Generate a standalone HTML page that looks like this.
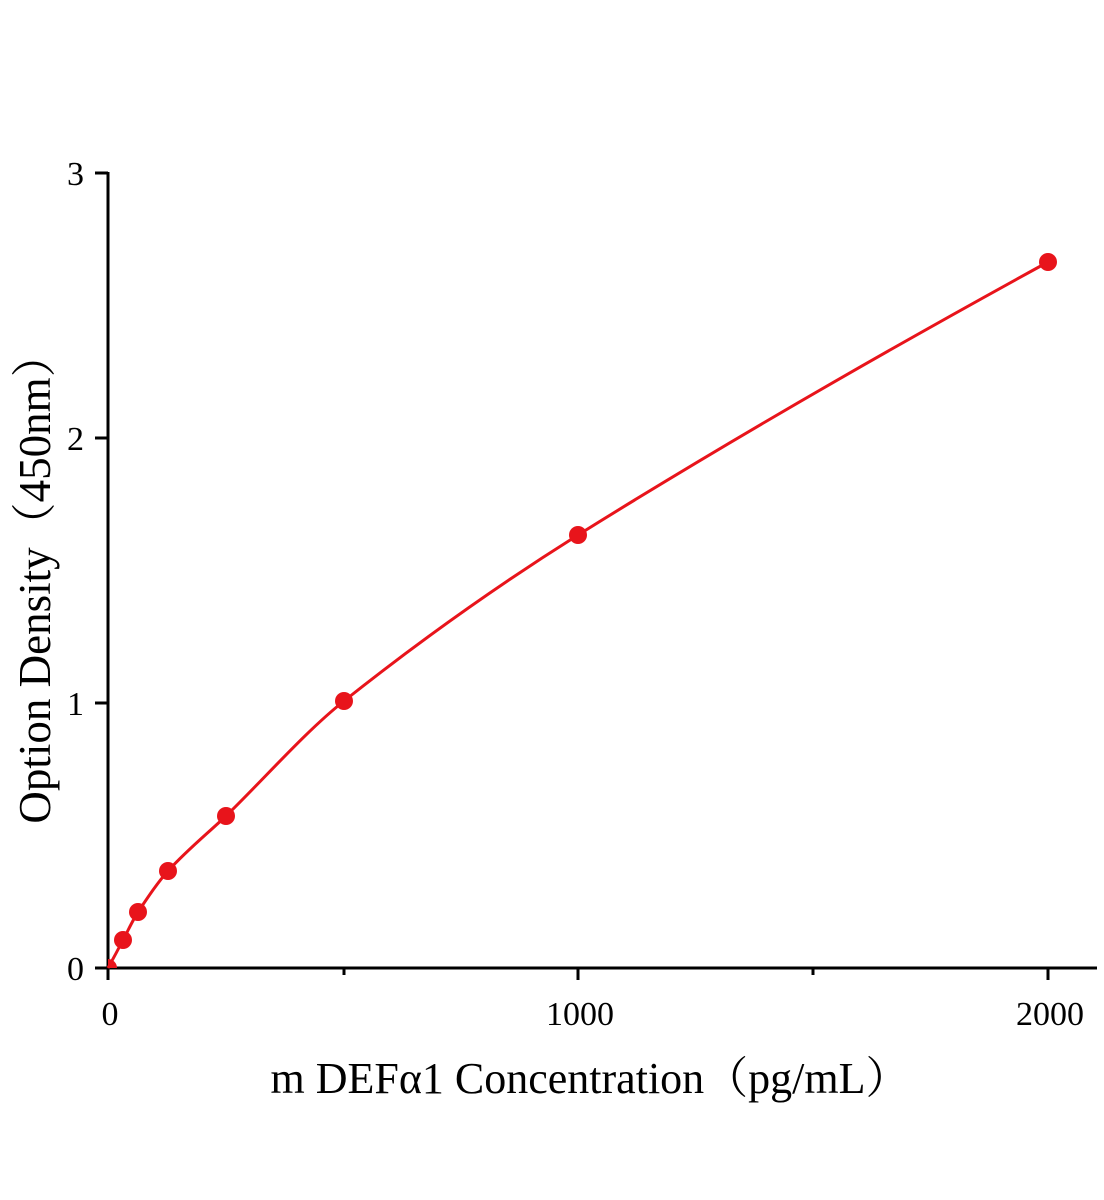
<!DOCTYPE html>
<html><head><meta charset="utf-8"><style>
html,body{margin:0;padding:0;background:#fff;}
svg{display:block;font-family:"Liberation Serif","Noto Serif CJK SC",serif;}
</style></head><body>
<svg width="1104" height="1200" viewBox="0 0 1104 1200" xmlns="http://www.w3.org/2000/svg">
<g stroke="#000" stroke-width="3" fill="none">
<line x1="108" y1="172" x2="108" y2="980"/>
<line x1="95" y1="968" x2="1097" y2="968"/>
<line x1="95" y1="173" x2="108" y2="173"/>
<line x1="95" y1="438" x2="108" y2="438"/>
<line x1="95" y1="703" x2="108" y2="703"/>
<line x1="578" y1="968" x2="578" y2="980"/>
<line x1="1048" y1="968" x2="1048" y2="980"/>
<line x1="344" y1="968" x2="344" y2="975"/>
<line x1="813" y1="968" x2="813" y2="975"/>
</g>
<g font-size="34" fill="#000">
<text x="84" y="185" text-anchor="end">3</text>
<text x="84" y="450" text-anchor="end">2</text>
<text x="84" y="715" text-anchor="end">1</text>
<text x="84" y="980" text-anchor="end">0</text>
<text x="110" y="1025" text-anchor="middle">0</text>
<text x="580" y="1025" text-anchor="middle">1000</text>
<text x="1050" y="1025" text-anchor="middle">2000</text>
</g>
<text x="590" y="1093" font-size="44" text-anchor="middle">m DEFα1 Concentration（pg/mL）</text>
<text transform="translate(50,578) rotate(-90)" font-size="45" text-anchor="middle">Option Density（450nm）</text>
<path d="M108,968 C113,959 118,949.7 123,940 C128,930.7 133,919.7 138,912 C148,897 158,882 168,871 C187,850 207,834 226,816 C265,778 305,732 344,701 C422,639 500,584 578,535 C735,437 891,348 1048,262" stroke="#e8141b" stroke-width="3" fill="none"/>
<clipPath id="cp"><rect x="108" y="100" width="1000" height="868"/></clipPath>
<g fill="#e8141b" clip-path="url(#cp)">
<circle cx="108" cy="968" r="9"/>
<circle cx="123" cy="940" r="9"/>
<circle cx="138" cy="912" r="9"/>
<circle cx="168" cy="871" r="9"/>
<circle cx="226" cy="816" r="9"/>
<circle cx="344" cy="701" r="9"/>
<circle cx="578" cy="535" r="9"/>
<circle cx="1048" cy="262" r="9"/>
</g>
</svg>
</body></html>
